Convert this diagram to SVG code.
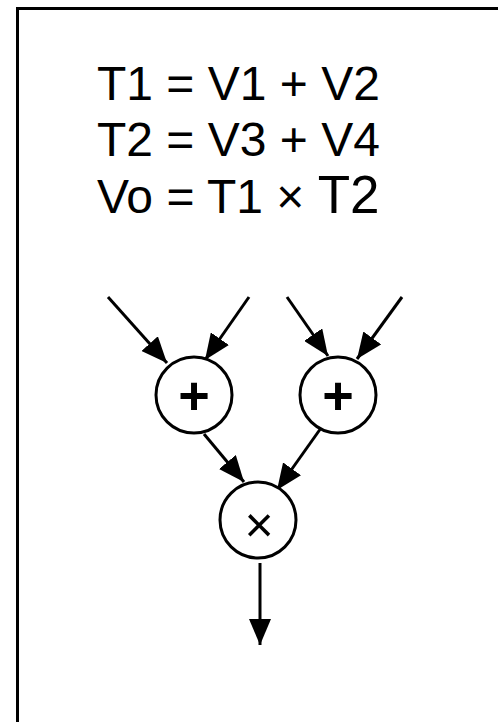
<svg xmlns="http://www.w3.org/2000/svg" width="498" height="722" viewBox="0 0 498 722">
<defs>
<style>
.t{font-family:"Liberation Sans",Arial,sans-serif;font-size:48px;fill:#000}
.n{fill:#fff;stroke:#000;stroke-width:3}
.e{stroke:#000;stroke-width:3;fill:none;marker-end:url(#ah)}
.op{font-family:"Liberation Sans",Arial,sans-serif;font-size:50px;fill:#000;text-anchor:middle}
.b{font-weight:bold;font-size:54px}
</style>
<marker id="ah" viewBox="0 0 26 22" refX="26" refY="11" markerWidth="26" markerHeight="22" markerUnits="userSpaceOnUse" orient="auto">
<path d="M0,0 L26,11 L0,22 Z" fill="#000"/>
</marker>
</defs>
<rect width="498" height="722" fill="#fff"/>
<path d="M17.5,722 V8.5 H498" fill="none" stroke="#000" stroke-width="3"/>
<g id="equations">
<text class="t" x="97" y="100">T1 = V1 + V2</text>
<text class="t" x="97" y="156">T2 = V3 + V4</text>
<text class="t" x="97" y="213">Vo = T1 × <tspan font-size="53">T2</tspan></text>
</g>
<g id="connectors">
<line class="e" x1="108" y1="297" x2="167" y2="363"/>
<line class="e" x1="249" y1="297" x2="205" y2="360"/>
<line class="e" x1="287" y1="297" x2="328" y2="356"/>
<line class="e" x1="402" y1="297" x2="357" y2="359"/>
<line class="e" x1="204" y1="434" x2="244" y2="482"/>
<line class="e" x1="321" y1="428" x2="277" y2="490"/>
<line class="e" x1="260" y1="563" x2="260" y2="645"/>
</g>
<g id="add1">
<circle class="n" cx="194" cy="395" r="38"/>
<text class="op b" x="194" y="414">+</text>
</g>
<g id="add2">
<circle class="n" cx="338" cy="395" r="38"/>
<text class="op b" x="338" y="414">+</text>
</g>
<g id="mul">
<circle class="n" cx="258" cy="520" r="38"/>
<text class="op" x="259" y="542">×</text>
</g>
</svg>
